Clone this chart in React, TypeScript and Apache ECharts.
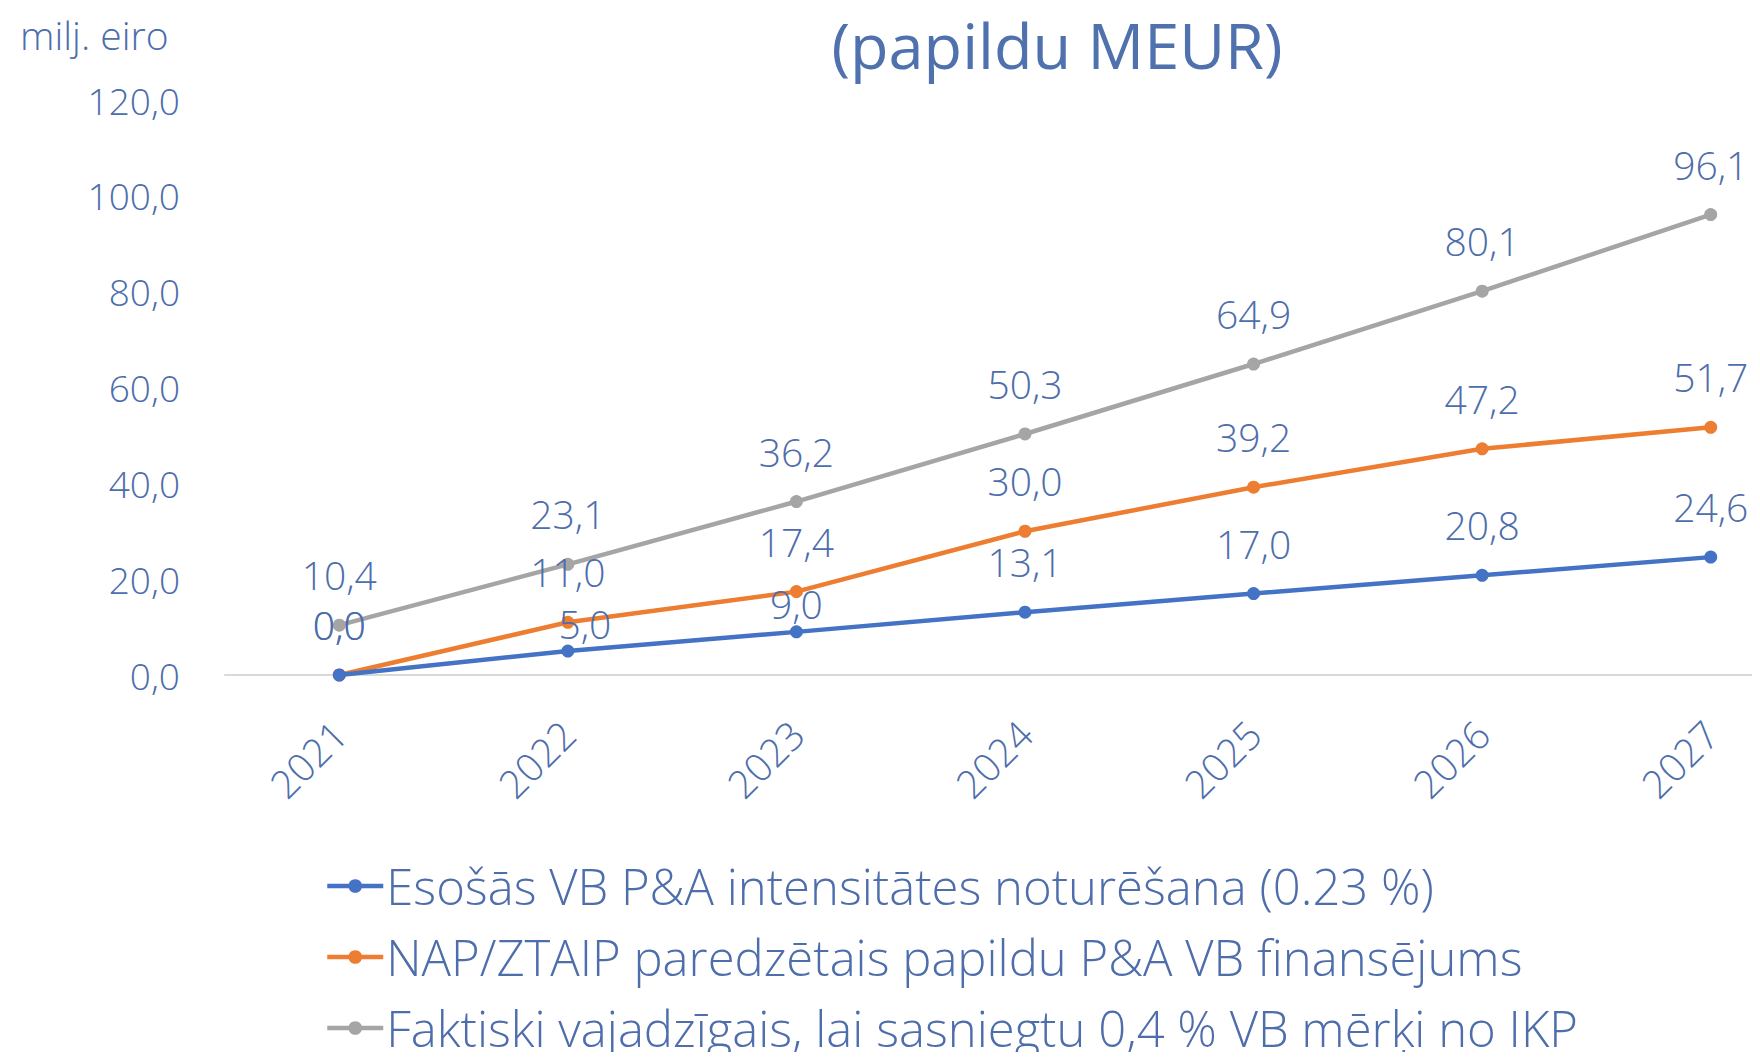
import React, { useEffect, useRef } from "react";
import * as echarts from "echarts";

const years = ["2021", "2022", "2023", "2024", "2025", "2026", "2027"];
const seriesNames = [
  "Esošās VB P&A intensitātes noturēšana (0.23 %)",
  "NAP/ZTAIP paredzētais papildu P&A VB finansējums",
  "Faktiski vajadzīgais, lai sasniegtu 0,4 % VB mērķi no IKP",
];
const blueValues = [0.0, 5.0, 9.0, 13.1, 17.0, 20.8, 24.6];
const orangeValues = [0.0, 11.0, 17.4, 30.0, 39.2, 47.2, 51.7];
const grayValues = [10.4, 23.1, 36.2, 50.3, 64.9, 80.1, 96.1];
const yTicks = [0, 20, 40, 60, 80, 100, 120];
const colors = ["#4472C4", "#ED7D31", "#A5A5A5"];

const TEXT = "#4d6dab";
const FONT = "'Open Sans', 'Noto Sans', sans-serif";

const fmt = (v: number) => v.toFixed(1).replace(".", ",");

export default function App() {
  const ref = useRef<HTMLDivElement>(null);
  useEffect(() => {
    if (!ref.current) return;
    const chart = echarts.init(ref.current, undefined, { renderer: "svg" });

    const labelBase = {
      show: true,
      position: "top",
      distance: 23,
      color: TEXT,
      fontFamily: FONT,
      fontWeight: 300,
      fontSize: 39,
      lineHeight: 42,
      formatter: (p: any) => fmt(p.value),
    };

    const mk = (vals: number[], special: Record<number, number[]>) =>
      vals.map((v, i) =>
        special[i] ? { value: v, label: { offset: special[i] } } : { value: v }
      );

    const allSeries = [blueValues, orangeValues, grayValues].map((vals, k) => ({
      name: seriesNames[k],
      type: "line",
      data: mk(vals, k === 0 ? { 1: [17, 23], 2: [0, 22] } : {}),
      color: colors[k],
      lineStyle: { width: 4.5, color: colors[k] },
      itemStyle: { color: colors[k] },
      symbol: "circle",
      symbolSize: 13,
      label: labelBase,
      z: 3 - k,
    }));

    chart.setOption({
      animation: false,
      backgroundColor: "#ffffff",
      grid: {
        left: 225,
        top: 100,
        width: 1600,
        height: 575,
        containLabel: false,
        outerBoundsMode: "none",
      },
      xAxis: {
        type: "category",
        data: years,
        boundaryGap: true,
        axisLine: { show: true, lineStyle: { color: "#d9d9d9", width: 2 } },
        axisTick: { show: false },
        axisLabel: {
          rotate: 45,
          margin: 52,
          color: TEXT,
          fontFamily: FONT,
          fontWeight: 300,
          fontSize: 39,
          interval: 0,
        },
      },
      yAxis: {
        type: "value",
        min: 0,
        max: 120,
        interval: 20,
        axisLine: { show: false },
        axisTick: { show: false },
        splitLine: { show: false },
        axisLabel: {
          margin: 45,
          color: TEXT,
          fontFamily: FONT,
          fontWeight: 300,
          fontSize: 37,
          formatter: (v: number) => (yTicks.includes(v) ? fmt(v) : ""),
        },
      },
      legend: {
        orient: "vertical",
        left: 325,
        top: 860,
        padding: 0,
        itemWidth: 56,
        itemHeight: 17,
        itemGap: 19,
        lineStyle: { width: 4.5 },
        textStyle: {
          color: TEXT,
          fontFamily: FONT,
          fontWeight: 300,
          fontSize: 49,
          lineHeight: 52,
          padding: [0, 0, 0, -2],
        },
        data: seriesNames,
      },
      graphic: [
        {
          type: "text",
          left: 20,
          top: 15,
          style: {
            text: "milj. eiro",
            fill: TEXT,
            font: `300 39px ${FONT}`,
          },
        },
        {
          type: "text",
          x: 1057,
          y: 44,
          style: {
            text: "(papildu MEUR)",
            fill: "#4f71ad",
            font: `400 63px ${FONT}`,
            textAlign: "center",
            textVerticalAlign: "middle",
          },
        },
      ],
      series: allSeries,
    });
    return () => chart.dispose();
  }, []);
  return <div ref={ref} style={{ width: 1760, height: 1060, margin: -8 }} />;
}
